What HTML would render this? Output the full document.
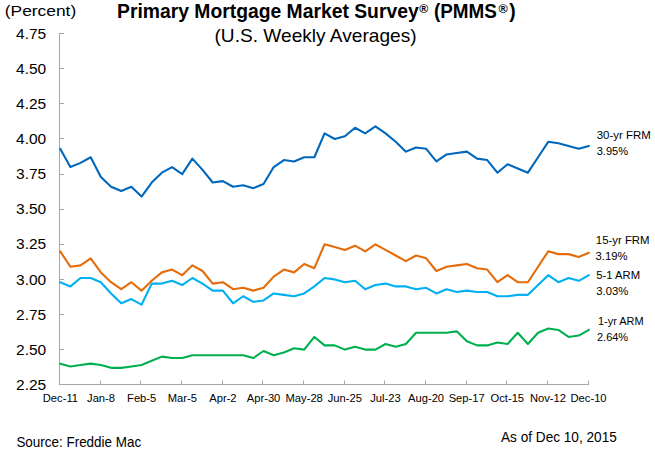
<!DOCTYPE html>
<html><head><meta charset="utf-8"><style>
html,body{margin:0;padding:0;background:#fff;}
body{width:655px;height:450px;position:relative;overflow:hidden;}
svg{position:absolute;left:0;top:0;}
</style></head><body>
<svg width="655" height="450" viewBox="0 0 655 450">
<g stroke="#a6a6a6" stroke-width="1" fill="none">
<line x1="59.5" y1="33" x2="59.5" y2="384.5"/>
<line x1="59" y1="384.5" x2="589" y2="384.5"/>
<line x1="59.5" y1="33.5" x2="64" y2="33.5"/><line x1="59.5" y1="68.5" x2="64" y2="68.5"/><line x1="59.5" y1="103.5" x2="64" y2="103.5"/><line x1="59.5" y1="138.5" x2="64" y2="138.5"/><line x1="59.5" y1="174.5" x2="64" y2="174.5"/><line x1="59.5" y1="209.5" x2="64" y2="209.5"/><line x1="59.5" y1="244.5" x2="64" y2="244.5"/><line x1="59.5" y1="279.5" x2="64" y2="279.5"/><line x1="59.5" y1="314.5" x2="64" y2="314.5"/><line x1="59.5" y1="349.5" x2="64" y2="349.5"/><line x1="59.5" y1="384.5" x2="64" y2="384.5"/>
<line x1="59.5" y1="384.5" x2="59.5" y2="380.5"/><line x1="100.5" y1="384.5" x2="100.5" y2="380.5"/><line x1="140.5" y1="384.5" x2="140.5" y2="380.5"/><line x1="181.5" y1="384.5" x2="181.5" y2="380.5"/><line x1="222.5" y1="384.5" x2="222.5" y2="380.5"/><line x1="262.5" y1="384.5" x2="262.5" y2="380.5"/><line x1="303.5" y1="384.5" x2="303.5" y2="380.5"/><line x1="344.5" y1="384.5" x2="344.5" y2="380.5"/><line x1="384.5" y1="384.5" x2="384.5" y2="380.5"/><line x1="425.5" y1="384.5" x2="425.5" y2="380.5"/><line x1="466.5" y1="384.5" x2="466.5" y2="380.5"/><line x1="506.5" y1="384.5" x2="506.5" y2="380.5"/><line x1="547.5" y1="384.5" x2="547.5" y2="380.5"/><line x1="588.5" y1="384.5" x2="588.5" y2="380.5"/>
</g>
<g fill="none" stroke-width="2.1" stroke-linejoin="round" stroke-linecap="round">
<path stroke="#00b050" d="M60.20,363.64 L70.37,366.45 L80.53,365.04 L90.70,363.64 L100.87,365.04 L111.04,367.85 L121.20,367.85 L131.37,366.45 L141.54,365.04 L151.71,360.83 L161.87,356.62 L172.04,358.02 L182.21,358.02 L192.38,355.22 L202.54,355.22 L212.71,355.22 L222.88,355.22 L233.04,355.22 L243.21,355.22 L253.38,358.02 L263.55,351.00 L273.71,355.22 L283.88,352.41 L294.05,348.20 L304.22,349.60 L314.38,336.96 L324.55,345.39 L334.72,345.39 L344.88,349.60 L355.05,346.79 L365.22,349.60 L375.39,349.60 L385.55,343.98 L395.72,346.79 L405.89,343.98 L416.06,332.75 L426.22,332.75 L436.39,332.75 L446.56,332.75 L456.72,331.35 L466.89,341.18 L477.06,345.39 L487.23,345.39 L497.39,342.58 L507.56,343.98 L517.73,332.75 L527.90,343.98 L538.06,332.75 L548.23,328.54 L558.40,329.94 L568.57,336.96 L578.73,335.56 L588.90,329.94"/>
<path stroke="#00b0f0" d="M60.20,282.21 L70.37,286.42 L80.53,278.00 L90.70,278.00 L100.87,282.21 L111.04,293.44 L121.20,303.27 L131.37,299.06 L141.54,304.67 L151.71,283.61 L161.87,283.61 L172.04,280.80 L182.21,285.02 L192.38,278.00 L202.54,283.61 L212.71,290.63 L222.88,290.63 L233.04,303.27 L243.21,296.25 L253.38,301.86 L263.55,300.46 L273.71,293.44 L283.88,294.84 L294.05,296.25 L304.22,293.44 L314.38,286.42 L324.55,278.00 L334.72,279.40 L344.88,282.21 L355.05,280.80 L365.22,289.23 L375.39,285.02 L385.55,283.61 L395.72,286.42 L405.89,286.42 L416.06,289.23 L426.22,287.82 L436.39,293.44 L446.56,289.23 L456.72,292.04 L466.89,290.63 L477.06,292.04 L487.23,292.04 L497.39,296.25 L507.56,296.25 L517.73,294.84 L527.90,294.84 L538.06,285.02 L548.23,275.19 L558.40,282.21 L568.57,278.00 L578.73,280.80 L588.90,275.19"/>
<path stroke="#e46c0a" d="M60.20,251.32 L70.37,266.76 L80.53,265.36 L90.70,258.34 L100.87,272.38 L111.04,282.21 L121.20,289.23 L131.37,282.21 L141.54,290.63 L151.71,280.80 L161.87,272.38 L172.04,269.57 L182.21,275.19 L192.38,265.36 L202.54,270.98 L212.71,283.61 L222.88,282.21 L233.04,289.23 L243.21,287.82 L253.38,290.63 L263.55,287.82 L273.71,276.59 L283.88,269.57 L294.05,272.38 L304.22,263.96 L314.38,268.17 L324.55,244.30 L334.72,247.11 L344.88,249.92 L355.05,245.70 L365.22,251.32 L375.39,244.30 L385.55,249.92 L395.72,255.53 L405.89,261.15 L416.06,255.53 L426.22,258.34 L436.39,270.98 L446.56,266.76 L456.72,265.36 L466.89,263.96 L477.06,268.17 L487.23,269.57 L497.39,282.21 L507.56,275.19 L517.73,282.21 L527.90,282.21 L538.06,266.76 L548.23,251.32 L558.40,254.13 L568.57,254.13 L578.73,256.94 L588.90,252.72"/>
<path stroke="#0068bc" d="M60.20,148.83 L70.37,167.08 L80.53,162.87 L90.70,157.25 L100.87,176.91 L111.04,186.74 L121.20,190.95 L131.37,186.74 L141.54,196.56 L151.71,182.52 L161.87,172.70 L172.04,167.08 L182.21,174.10 L192.38,158.66 L202.54,169.89 L212.71,182.52 L222.88,181.12 L233.04,186.74 L243.21,185.33 L253.38,188.14 L263.55,183.93 L273.71,167.08 L283.88,160.06 L294.05,161.46 L304.22,157.25 L314.38,157.25 L324.55,133.38 L334.72,139.00 L344.88,136.19 L355.05,127.77 L365.22,133.38 L375.39,126.36 L385.55,133.38 L395.72,141.81 L405.89,151.64 L416.06,147.42 L426.22,148.83 L436.39,161.46 L446.56,154.44 L456.72,153.04 L466.89,151.64 L477.06,158.66 L487.23,160.06 L497.39,172.70 L507.56,164.27 L517.73,168.48 L527.90,172.70 L538.06,157.25 L548.23,141.81 L558.40,143.21 L568.57,146.02 L578.73,148.83 L588.90,146.02"/>
</g>
<g font-family='"Liberation Sans", sans-serif' fill="#000">
<text transform="translate(4.80,15.90) scale(1.1590,1)" font-size="15.0">(Percent)</text>
<text transform="translate(117.00,18.30) scale(1.0017,1)" font-size="19.3" font-weight="bold">Primary Mortgage Market Survey</text>
<text transform="translate(419.20,12.90) scale(0.9400,1)" font-size="13.0" font-weight="bold">®</text>
<text transform="translate(433.90,18.30) scale(0.9798,1)" font-size="19.3" font-weight="bold">(PMMS</text>
<text transform="translate(498.40,12.60) scale(0.9600,1)" font-size="13.0" font-weight="bold">®</text>
<text x="509.30" y="18.30" font-size="19.3" font-weight="bold">)</text>
<text transform="translate(214.51,41.80) scale(1.0920,1)" font-size="17.5">(U.S. Weekly Averages)</text>
<text transform="translate(16.40,446.60) scale(0.9604,1)" font-size="14.0">Source: Freddie Mac</text>
<text transform="translate(501.00,441.80) scale(0.9588,1)" font-size="14.2">As of Dec 10, 2015</text>
<text transform="translate(596.70,138.90) scale(1.0246,1)" font-size="11.2">30-yr FRM</text>
<text transform="translate(596.70,155.30) scale(0.9914,1)" font-size="11.2">3.95%</text>
<text transform="translate(595.80,243.70) scale(1.0169,1)" font-size="11.2">15-yr FRM</text>
<text transform="translate(595.50,260.30) scale(1.0071,1)" font-size="11.2">3.19%</text>
<text transform="translate(596.30,278.70) scale(1.0041,1)" font-size="11.2">5-1 ARM</text>
<text transform="translate(596.30,294.70) scale(1.0071,1)" font-size="11.2">3.03%</text>
<text transform="translate(598.00,324.90) scale(0.9762,1)" font-size="11.2">1-yr ARM</text>
<text transform="translate(597.00,341.30) scale(0.9819,1)" font-size="11.2">2.64%</text>
<text x="46.20" y="38.80" font-size="15.5" text-anchor="end">4.75</text>
<text x="46.20" y="73.90" font-size="15.5" text-anchor="end">4.50</text>
<text x="46.20" y="109.00" font-size="15.5" text-anchor="end">4.25</text>
<text x="46.20" y="144.10" font-size="15.5" text-anchor="end">4.00</text>
<text x="46.20" y="179.20" font-size="15.5" text-anchor="end">3.75</text>
<text x="46.20" y="214.30" font-size="15.5" text-anchor="end">3.50</text>
<text x="46.20" y="249.40" font-size="15.5" text-anchor="end">3.25</text>
<text x="46.20" y="284.50" font-size="15.5" text-anchor="end">3.00</text>
<text x="46.20" y="319.60" font-size="15.5" text-anchor="end">2.75</text>
<text x="46.20" y="354.70" font-size="15.5" text-anchor="end">2.50</text>
<text x="46.20" y="389.80" font-size="15.5" text-anchor="end">2.25</text>
<text x="42.79" y="402.00" font-size="11.2">Dec-11</text>
<text x="87.05" y="402.00" font-size="11.2">Jan-8</text>
<text x="127.05" y="402.00" font-size="11.2">Feb-5</text>
<text x="167.68" y="402.00" font-size="11.2">Mar-5</text>
<text x="209.24" y="402.00" font-size="11.2">Apr-2</text>
<text x="246.76" y="402.00" font-size="11.2">Apr-30</text>
<text x="285.52" y="402.00" font-size="11.2">May-28</text>
<text x="327.70" y="402.00" font-size="11.2">Jun-25</text>
<text x="370.19" y="402.00" font-size="11.2">Jul-23</text>
<text x="408.02" y="402.00" font-size="11.2">Aug-20</text>
<text x="448.64" y="402.00" font-size="11.2">Sep-17</text>
<text x="490.52" y="402.00" font-size="11.2">Oct-15</text>
<text x="529.90" y="402.00" font-size="11.2">Nov-12</text>
<text x="570.53" y="402.00" font-size="11.2">Dec-10</text>
</g>
</svg>
</body></html>
